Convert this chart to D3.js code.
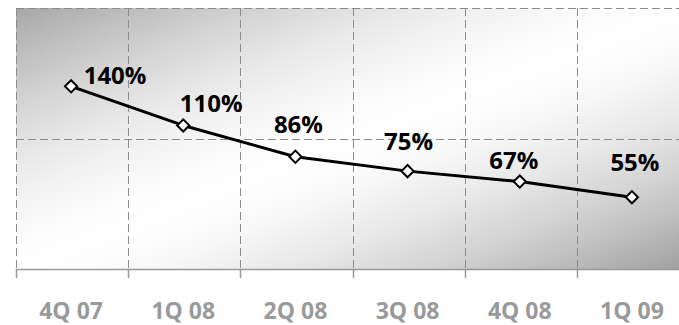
<!DOCTYPE html>
<html>
<head>
<meta charset="utf-8">
<script src="https://cdn.jsdelivr.net/npm/d3@7/dist/d3.min.js"></script>
<style>
  html, body { margin: 0; padding: 0; background: #fff; }
  svg { display: block; }
</style>
</head>
<body>
<svg id="chart" width="679" height="325"></svg>
<script>
// Quarterly ratio, in percent
const quarters = ["4Q 07", "1Q 08", "2Q 08", "3Q 08", "4Q 08", "1Q 09"];
const ratios = [140, 110, 86, 75, 67, 55];
const yTicks = [0, 100, 200];

// Where each value label sits relative to its marker: [dx, baseline dy]
const labelNudge = [[44, -2], [28, -13], [3, -24], [1, -21], [-6, -13], [3, -26]];

const svg = d3.select("#chart");
const plot = { left: 15, right: 688, top: 8, bottom: 269 };

const x = d3.scaleBand().domain(quarters).range([plot.left, plot.right]).padding(0);
const y = d3.scaleLinear().domain([0, 200]).range([plot.bottom, plot.top]);

// Diagonal grey-white-grey backdrop with a soft, broad light middle
const defs = svg.append("defs");
const grad = defs.append("linearGradient")
  .attr("id", "bg").attr("x1", 0).attr("y1", 0).attr("x2", 1).attr("y2", 1);
const ramp = d3.range(0, 1.0001, 0.05).map(t => {
  const d = Math.abs(t - 0.5) * 2;                // 0 in the middle, 1 at the ends
  const k = Math.pow(d, 1.6);                      // keep the middle broad and light
  const dark = t < 0.5 ? 166 : 158;
  const g = Math.round(254 - (254 - dark) * k);
  return { t, c: d3.rgb(g, g, g).formatHex() };
});
grad.selectAll("stop").data(ramp).join("stop")
  .attr("offset", d => d.t).attr("stop-color", d => d.c);

svg.append("rect")
  .attr("x", plot.left + 1).attr("y", plot.top)
  .attr("width", plot.right - plot.left).attr("height", plot.bottom - plot.top)
  .attr("fill", "url(#bg)");

// Dashed horizontal gridlines
svg.append("g")
  .selectAll("line")
  .data(yTicks.filter(d => d > 0))
  .join("line")
  .attr("x1", plot.left + 1).attr("x2", plot.right)
  .attr("y1", d => Math.round(y(d)) + 0.5).attr("y2", d => Math.round(y(d)) + 0.5)
  .attr("stroke", "#8c8c8c").attr("stroke-width", 1)
  .attr("stroke-dasharray", "8,4");

// Dashed vertical gridlines at category boundaries
const bounds = quarters.map(q => x(q));
svg.append("g")
  .selectAll("line")
  .data(bounds)
  .join("line")
  .attr("x1", d => Math.round(d) + 1.5).attr("x2", d => Math.round(d) + 1.5)
  .attr("y1", plot.top).attr("y2", plot.bottom)
  .attr("stroke", "#8c8c8c").attr("stroke-width", 1)
  .attr("stroke-dasharray", "8,4");

// Category axis
const xAxis = d3.axisBottom(x).tickSize(0).tickPadding(0);
const gx = svg.append("g").attr("transform", `translate(0,${plot.bottom})`).call(xAxis);
gx.select(".domain").remove();
gx.selectAll(".tick text").remove();
gx.append("line")
  .attr("x1", plot.left + 1).attr("x2", plot.right)
  .attr("y1", 0.5).attr("y2", 0.5)
  .attr("stroke", "#999").attr("stroke-width", 1.5);
gx.selectAll(".boundTick")
  .data(bounds)
  .join("line")
  .attr("class", "boundTick")
  .attr("x1", d => Math.round(d) + 1.5).attr("x2", d => Math.round(d) + 1.5)
  .attr("y1", 0).attr("y2", 9)
  .attr("stroke", "#999").attr("stroke-width", 1.5);

svg.append("g")
  .selectAll("text")
  .data(quarters)
  .join("text")
  .attr("x", d => x(d) + x.bandwidth() / 2)
  .attr("y", 319)
  .attr("text-anchor", "middle")
  .attr("font-family", "'Open Sans', sans-serif")
  .attr("font-weight", 700)
  .attr("font-size", 23)
  .attr("fill", "#9a9a9a")
  .text(d => d);

// Series line
const pts = quarters.map((q, i) => ({ q, v: ratios[i], i }));
const cx = d => x(d.q) + x.bandwidth() / 2;

svg.append("path")
  .datum(pts)
  .attr("fill", "none")
  .attr("stroke", "#000")
  .attr("stroke-width", 3)
  .attr("stroke-linejoin", "round")
  .attr("d", d3.line().x(cx).y(d => y(d.v)));

// Diamond markers
svg.append("g")
  .selectAll("path")
  .data(pts)
  .join("path")
  .attr("transform", d => `translate(${cx(d)},${y(d.v)})`)
  .attr("d", d3.symbol(d3.symbolDiamond2, 95))
  .attr("fill", "#fff")
  .attr("stroke", "#000")
  .attr("stroke-width", 2);

// Value labels
svg.append("g")
  .selectAll("text")
  .data(pts)
  .join("text")
  .attr("x", d => cx(d) + labelNudge[d.i][0])
  .attr("y", d => y(d.v) + labelNudge[d.i][1])
  .attr("text-anchor", "middle")
  .attr("font-family", "'Open Sans', sans-serif")
  .attr("font-weight", 700)
  .attr("font-size", 24)
  .attr("fill", "#000")
  .text(d => d.v + "%");
</script>
</body>
</html>
